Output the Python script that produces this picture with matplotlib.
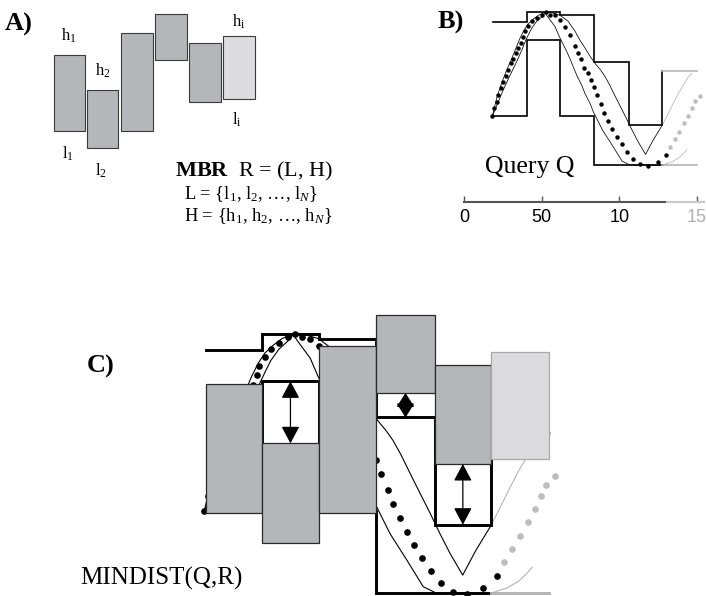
import matplotlib.pyplot as plt
from matplotlib.patches import Rectangle

plt.rcParams['font.family'] = 'Liberation Serif'
plt.rcParams['mathtext.fontset'] = 'custom'
plt.rcParams['mathtext.rm'] = 'Liberation Serif'
plt.rcParams['mathtext.it'] = 'Liberation Serif:italic'
plt.rcParams['mathtext.bf'] = 'Liberation Serif:bold'

W, H = 706, 596
GRAY = '#b4b4b4'

# segment edges on the time axis (B axis runs 0..150)
seg_edges = [18.7, 40.3, 61.8, 83.9, 106.3, 127.8, 150.0]
# envelope of the query, one value per segment
q_upper = [0.88, 1.01, 0.97, 0.36, -0.47, 0.24]
q_lower = [-0.36, 0.64, -0.36, -1.0, -1.0, -1.0]
# MBR R = (L, H)
mbr_high = [0.62, 0.16, 0.91, 1.15, 0.77, 0.87]
mbr_low = [-0.38, -0.61, -0.38, 0.55, 0.0, 0.04]
mbr_fill = ['#b5b6b9', '#b5b6b9', '#b5b6b9', '#b5b6b9', '#b5b6b9', '#dcdcde']

# dotted query series
dot_t = [18.1, 19.4, 20.9, 22.0, 23.7, 25.2, 26.7, 28.4, 30.2, 31.6, 33.2, 34.9, 36.6, 38.1, 39.2,
         41.3, 43.5, 46.7, 50.0, 52.7, 55.3, 58.6, 61.8, 65.0, 68.2, 71.5, 73.6, 75.3, 77.5, 79.7,
         81.8, 83.9, 85.9, 88.3, 90.2, 93.0, 95.6, 98.4, 101.6, 104.8, 108.7, 113.4, 118.8, 124.9,
         130.0, 132.7, 135.9, 138.9, 142.0, 144.6, 146.8, 148.9, 152.2]
dot_v = [-0.36, -0.25, -0.17, -0.08, 0.01, 0.09, 0.17, 0.25, 0.34, 0.40, 0.48, 0.54, 0.61, 0.69, 0.76,
         0.83, 0.89, 0.94, 0.98, 1.01, 0.98, 0.97, 0.91, 0.82, 0.71, 0.57, 0.48, 0.39, 0.28, 0.21,
         0.12, 0.03, -0.08, -0.20, -0.31, -0.42, -0.53, -0.63, -0.73, -0.83, -0.92, -0.99, -1.01, -0.96,
         -0.87, -0.76, -0.66, -0.56, -0.45, -0.35, -0.25, -0.16, -0.09]
dot_black_until = 131.0

# thin upper / lower envelope lines
up_t = [18.1, 20.9, 24.1, 27.4, 30.6, 33.8, 36.0, 38.7, 41.3, 44.5, 47.8, 52.1, 55.3, 61.8, 67.1,
        71.5, 74.7, 77.9, 81.2, 84.7, 87.6, 90.4, 93.4, 96.8, 100.5, 104.5, 108.3, 112.1, 117.0,
        122.0, 128.0, 131.7, 134.9, 138.2, 141.4, 144.6, 146.8]
up_v = [-0.36, -0.12, 0.08, 0.25, 0.40, 0.56, 0.67, 0.78, 0.86, 0.92, 0.97, 1.01, 1.01, 0.97, 0.89,
        0.76, 0.64, 0.54, 0.43, 0.33, 0.26, 0.18, 0.07, -0.07, -0.22, -0.38, -0.54, -0.69, -0.86,
        -0.67, -0.47, -0.32, -0.19, -0.06, 0.05, 0.16, 0.21]
lo_t = [18.1, 21.9, 25.2, 29.5, 33.8, 37.1, 39.2, 41.3, 43.5, 46.7, 50.0, 52.1, 55.3, 58.6, 61.8,
        65.0, 68.2, 70.4, 72.6, 75.8, 77.9, 81.2, 83.3, 89.2, 95.5, 101.9, 107.0, 127.8, 133.9,
        138.2, 141.4, 143.6]
lo_v = [-0.36, -0.17, -0.01, 0.18, 0.36, 0.51, 0.62, 0.71, 0.80, 0.89, 0.95, 1.00, 0.91, 0.82, 0.67,
        0.54, 0.40, 0.29, 0.18, 0.05, -0.06, -0.19, -0.30, -0.54, -0.74, -0.95, -1.00, -1.00, -0.96,
        -0.91, -0.85, -0.80]
line_cut = 128.0

tick_pos = [0, 50, 100, 150]
tick_labels = ['0', '50', '10', '15']

fig = plt.figure(figsize=(W / 100, H / 100), dpi=100)


def panel_axes(px0, sx, py0, sy, xlim, ylim):
    left, right = px0 + sx * xlim[0], px0 + sx * xlim[1]
    top, bottom = py0 - sy * ylim[1], py0 - sy * ylim[0]
    ax = fig.add_axes([left / W, 1 - bottom / H, (right - left) / W, (bottom - top) / H])
    ax.set_xlim(xlim)
    ax.set_ylim(ylim)
    ax.patch.set_alpha(0)
    return ax


def label(x, y, s, **kw):
    fig.text(x / W, 1 - y / H, s, va='baseline', **kw)


def split(ts, vs, cut):
    k = max(i for i, t in enumerate(ts) if t <= cut)
    return (ts[:k + 1], vs[:k + 1]), (ts[k:], vs[k:])


def draw_series(ax, lw_line, ms):
    for ts, vs in [(up_t, up_v), (lo_t, lo_v)]:
        (bt, bv), (gt, gv) = split(ts, vs, line_cut)
        ax.plot(bt, bv, color='black', lw=lw_line, zorder=1)
        ax.plot(gt, gv, color=GRAY, lw=lw_line, zorder=1)
    (bt, bv), (gt, gv) = split(dot_t, dot_v, dot_black_until)
    ax.plot(bt, bv, 'o', color='black', ms=ms, mew=0, zorder=1)
    ax.plot(gt[1:], gv[1:], 'o', color='#bdbdbd', ms=ms, mew=0, zorder=1)


def draw_steps(ax, vals, lw):
    xs, ys = [], []
    for i in range(5):
        xs += [seg_edges[i], seg_edges[i + 1]]
        ys += [vals[i], vals[i]]
    xs.append(seg_edges[5])
    ys.append(vals[5])
    ax.plot(xs, ys, color='black', lw=lw, solid_joinstyle='miter', zorder=2)
    ax.plot(seg_edges[5:7], [vals[5]] * 2, color=GRAY, lw=lw, zorder=2)


# ---- A) the MBR on its own
axA = panel_axes(23.7, 1.549, 101.9, 76, (-15, 205), (-1.8, 1.33))
axA.axis('off')
for i in range(6):
    x0 = seg_edges[i] + 0.7
    w = seg_edges[i + 1] - seg_edges[i] - 1.4
    axA.add_patch(Rectangle((x0, mbr_low[i]), w, mbr_high[i] - mbr_low[i],
                            fc=mbr_fill[i], ec='#3a3a3a', lw=0.8))

label(5, 31, 'A)', fontsize=19, fontweight='bold')
label(68.8, 40.7, r'h$_\mathrm{1}$', fontsize=12, ha='center')
label(103.3, 76, r'h$_\mathrm{2}$', fontsize=12, ha='center')
label(238.7, 26.7, r'h$_\mathrm{i}$', fontsize=12, ha='center')
label(236.7, 125, r'l$_\mathrm{i}$', fontsize=12, ha='center')
label(67.5, 158.3, r'l$_\mathrm{1}$', fontsize=12, ha='center')
label(101.3, 176, r'l$_\mathrm{2}$', fontsize=12, ha='center')
label(175, 176.7, r'$\mathbf{MBR}$  R = (L, H)', fontsize=16)
label(184.3, 199.3, r'L = {l$_\mathrm{1}$, l$_\mathrm{2}$, …, l$_N$}', fontsize=13.3)
label(184.3, 220.7, r'H = {h$_\mathrm{1}$, h$_\mathrm{2}$, …, h$_N$}', fontsize=13.3)

# ---- B) query Q and its envelope
axB = panel_axes(464.3, 1.549, 89, 76, (-10, 155), (-2.0, 1.17))
draw_series(axB, 0.55, 3.2)
draw_steps(axB, q_upper, 1.2)
draw_steps(axB, q_lower, 1.2)
axis_v = -1.483
for side in ['left', 'right', 'top']:
    axB.spines[side].set_visible(False)
axB.yaxis.set_visible(False)
axB.spines['bottom'].set_position(('data', axis_v))
axB.spines['bottom'].set_bounds(0, 129.6)
axB.spines['bottom'].set_color('#555555')
axB.spines['bottom'].set_linewidth(1.5)
axB.plot([129.6, 155.5], [axis_v, axis_v], color='#c8c8c8', lw=1.5, clip_on=False,
         solid_capstyle='butt')
axB.set_xticks(tick_pos)
axB.set_xticklabels(tick_labels, fontfamily='Liberation Sans', fontsize=13)
axB.tick_params(axis='x', direction='in', length=4, width=1, pad=5.5, color='#555555')
axB.get_xticklabels()[-1].set_color('#b0b0b0')
axB.xaxis.get_major_ticks()[-1].tick1line.set_color('#c8c8c8')

label(438, 28.3, 'B)', fontsize=19, fontweight='bold')
label(485, 173.3, 'Query Q', fontsize=18.5)

# ---- C) MINDIST between Q and R
c_sy = 129.2
axC = panel_axes(157.1, 2.612, 464.0, c_sy, (-40, 160), (-1.02, 1.3))
axC.axis('off')
draw_series(axC, 0.8, 4.8)
draw_steps(axC, q_upper, 2.1)
draw_steps(axC, q_lower, 2.1)
for i in range(6):
    axC.add_patch(Rectangle((seg_edges[i], mbr_low[i]), seg_edges[i + 1] - seg_edges[i],
                            mbr_high[i] - mbr_low[i], fc=mbr_fill[i],
                            ec='#a8a8a8' if i == 5 else '#2a2a2a', lw=0.9, zorder=3))
arrow_ms = 14
for i in range(6):
    mid = (seg_edges[i] + seg_edges[i + 1]) / 2
    if q_lower[i] > mbr_high[i]:
        a, b = mbr_high[i], q_lower[i]
    elif mbr_low[i] > q_upper[i]:
        a, b = q_upper[i], mbr_low[i]
    else:
        continue
    # short gaps: the two heads just meet in a diamond
    hl = min(0.75, (b - a) * c_sy / (2 * arrow_ms * 100 / 72))
    axC.annotate('', xy=(mid, a), xytext=(mid, b),
                 arrowprops=dict(arrowstyle=f'<|-|>,head_length={hl:.2f},head_width=0.4',
                                 mutation_scale=arrow_ms, color='black', lw=0.9,
                                 shrinkA=0, shrinkB=0), zorder=4)

label(86.7, 373, 'C)', fontsize=19, fontweight='bold')
label(80, 585, 'MINDIST(Q,R)', fontsize=18)

fig.savefig('out.png', dpi=100)
